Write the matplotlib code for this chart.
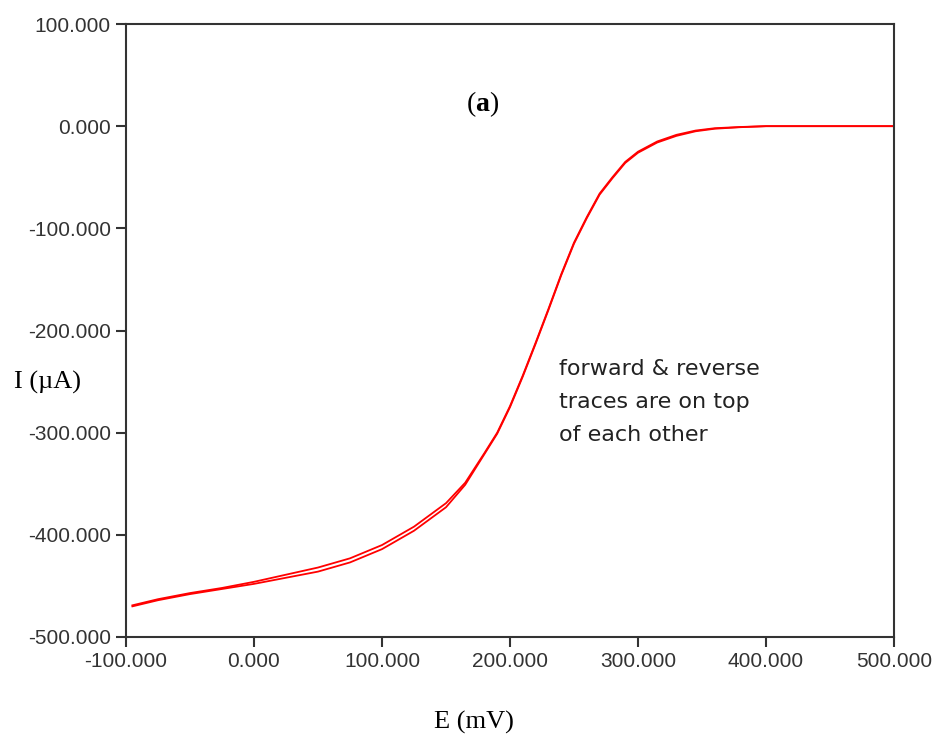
import matplotlib
matplotlib.use("Agg")
import matplotlib.pyplot as plt
from matplotlib.ticker import FuncFormatter

plt.rcParams['axes.unicode_minus'] = False
plt.rcParams['mathtext.fontset'] = 'custom'
plt.rcParams['mathtext.rm'] = 'Liberation Serif'
plt.rcParams['mathtext.bf'] = 'Liberation Serif:bold'

# Potential (mV)
E = [-95, -75, -50, -25, 0, 25, 50, 75, 100, 125, 150, 165, 180, 190, 200,
     210, 220, 230, 240, 250, 260, 270, 280, 290, 300, 315, 330, 345, 360,
     380, 400, 450, 500]
# Forward trace current (uA)
I_forward = [-469, -463, -457, -452, -446, -439, -432, -423, -410, -392, -369,
             -349, -320, -300, -274, -244, -212, -179, -145, -114, -89, -66,
             -50, -35, -25, -15, -8.5, -4.3, -2, -0.8, 0, 0, 0]
# Reverse trace current (uA)
I_reverse = [-470, -464, -458, -453, -448, -442, -436, -427, -414, -396, -373,
             -351, -321, -301, -275, -245, -213, -180, -146, -115, -90, -67,
             -51, -36, -26, -16, -9.5, -5, -2.5, -1, 0, 0, 0]

xticks = [-100, 0, 100, 200, 300, 400, 500]
yticks = [100, 0, -100, -200, -300, -400, -500]

fig = plt.figure(figsize=(9.36, 7.38), dpi=100)
ax = fig.add_axes([126/936, 1-637/738, (894-126)/936, (637-24)/738])

ax.plot(E, I_forward, color='#ff0000', lw=1.3)
ax.plot(E, I_reverse, color='#ff0000', lw=1.3)

ax.set_xlim(-100, 500)
ax.set_ylim(-500, 100)
ax.set_xticks(xticks)
ax.set_yticks(yticks)
fmt = FuncFormatter(lambda v, p: "%.3f" % v)
ax.xaxis.set_major_formatter(fmt)
ax.yaxis.set_major_formatter(fmt)

for s in ax.spines.values():
    s.set_linewidth(1.5)
    s.set_color('#333333')
ax.tick_params(direction='out', length=7, width=1.5, color='#333333',
               labelsize=15, labelcolor='#333333', pad=4)
for lab in ax.get_xticklabels() + ax.get_yticklabels():
    lab.set_family('Liberation Sans')

fig.text(483/936, 1-104/738, r"$\mathrm{(}\mathbf{a}\mathrm{)}$", fontsize=20,
         ha='center', va='center')

fig.text(559/936, 1-402/738, "forward & reverse\ntraces are on top\nof each other",
         family='DejaVu Sans', fontsize=16, color='#222222',
         ha='left', va='center', linespacing=1.8)

fig.text(47/936, 1-382/738, "I (µA)", family='Liberation Serif', fontsize=19,
         ha='center', va='center')
fig.text(474/936, 1-722/738, "E (mV)", family='Liberation Serif', fontsize=19,
         ha='center', va='center')

fig.savefig("out.png", dpi=100)
